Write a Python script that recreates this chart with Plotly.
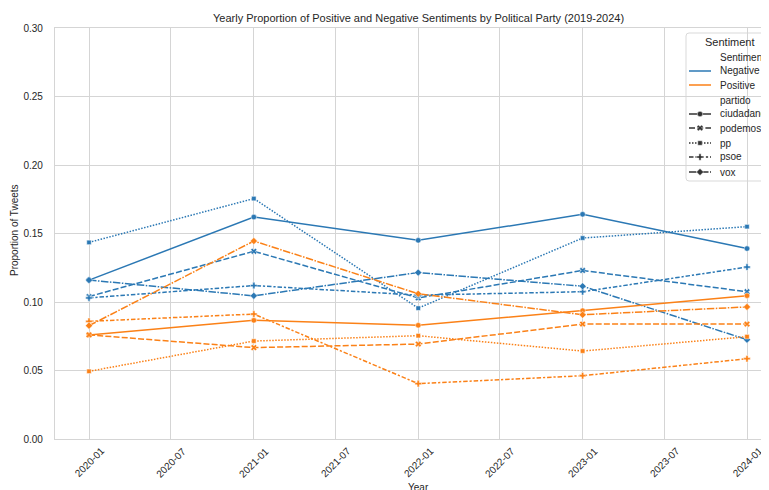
import plotly.graph_objects as go
import pandas as pd

# ---------------- data ----------------
years = ["2020-01-01", "2021-01-01", "2022-01-01", "2023-01-01", "2024-01-01"]
parties = ["ciudadanos", "podemos", "pp", "psoe", "vox"]
sentiments = ["Negative", "Positive"]

neg_ciudadanos = [0.116, 0.162, 0.145, 0.164, 0.139]
neg_podemos = [0.104, 0.137, 0.103, 0.123, 0.1075]
neg_pp = [0.1435, 0.1755, 0.0955, 0.1467, 0.155]
neg_psoe = [0.103, 0.112, 0.105, 0.1075, 0.1255]
neg_vox = [0.116, 0.1045, 0.1215, 0.1115, 0.0725]

pos_ciudadanos = [0.076, 0.0866, 0.083, 0.0937, 0.1046]
pos_podemos = [0.076, 0.0667, 0.0693, 0.0839, 0.0839]
pos_pp = [0.0494, 0.0715, 0.0754, 0.0642, 0.0747]
pos_psoe = [0.0859, 0.0912, 0.0404, 0.0462, 0.0586]
pos_vox = [0.0827, 0.1445, 0.106, 0.0907, 0.0964]

tick_dates = ["2020-01-01", "2020-07-01", "2021-01-01", "2021-07-01", "2022-01-01",
              "2022-07-01", "2023-01-01", "2023-07-01", "2024-01-01"]
tick_labels = ["2020-01", "2020-07", "2021-01", "2021-07", "2022-01",
               "2022-07", "2023-01", "2023-07", "2024-01"]
y_ticks = [0.0, 0.05, 0.10, 0.15, 0.20, 0.25, 0.30]

title_text = "Yearly Proportion of Positive and Negative Sentiments by Political Party (2019-2024)"

series = {
    "Negative": {"ciudadanos": neg_ciudadanos, "podemos": neg_podemos, "pp": neg_pp,
                 "psoe": neg_psoe, "vox": neg_vox},
    "Positive": {"ciudadanos": pos_ciudadanos, "podemos": pos_podemos, "pp": pos_pp,
                 "psoe": pos_psoe, "vox": pos_vox},
}

# ---------------- styles ----------------
OFF = 8  # page body margin offset
W, H = 769, 490
L, R, T, B = 55 - OFF, 0, 28 - OFF, H - (439 - OFF)
PW, PH = W - L - R, H - T - B

colors = {"Negative": "#2b78b4", "Positive": "#fb8117"}
dashes = {"ciudadanos": "solid", "podemos": "6px,2.2px", "pp": "1.5px,1.5px",
          "psoe": "4.5px,1.9px,2.2px,1.9px", "vox": "7.5px,1.5px,1.5px,1.5px"}
symbols = {"ciudadanos": "circle", "podemos": "x", "pp": "square", "psoe": "cross",
           "vox": "diamond"}
msize = {"ciudadanos": 5.5, "podemos": 5.5, "pp": 4.5, "psoe": 5.5, "vox": 5.5}
grid_c = "#d5d5d5"
text_c = "#262626"
FONT = "Liberation Sans, Arial, sans-serif"


def px2x(px):
    return (px - OFF - L) / PW


def py2y(py):
    return (H - B - (py - OFF)) / PH


# x range: 2020-01 at page px 89, 2024-01 at page px 747
d0 = pd.Timestamp("2020-01-01")
d1 = pd.Timestamp("2024-01-01")
days_per_px = (d1 - d0).days / (747 - 89)
x_left = d0 - pd.Timedelta(days=(89 - 55) * days_per_px)
x_right = d1 + pd.Timedelta(days=(W - R + OFF - 747) * days_per_px)

fig = go.Figure()

for s in sentiments:
    for p in parties:
        fig.add_trace(go.Scatter(
            x=years, y=series[s][p], mode="lines+markers",
            line=dict(color=colors[s], width=1.5, dash=dashes[p]),
            marker=dict(symbol=symbols[p], size=msize[p], color=colors[s],
                        line=dict(color="white", width=0.5)),
            showlegend=False, hoverinfo="skip"))

# ---------------- manual legend ----------------
lg_x0, lg_x1, lg_y0, lg_y1 = 686, 776, 33, 181
r = 3
path = (f"M {px2x(lg_x0 + r)},{py2y(lg_y0)} L {px2x(lg_x1 - r)},{py2y(lg_y0)} "
        f"Q {px2x(lg_x1)},{py2y(lg_y0)} {px2x(lg_x1)},{py2y(lg_y0 + r)} "
        f"L {px2x(lg_x1)},{py2y(lg_y1 - r)} Q {px2x(lg_x1)},{py2y(lg_y1)} {px2x(lg_x1 - r)},{py2y(lg_y1)} "
        f"L {px2x(lg_x0 + r)},{py2y(lg_y1)} Q {px2x(lg_x0)},{py2y(lg_y1)} {px2x(lg_x0)},{py2y(lg_y1 - r)} "
        f"L {px2x(lg_x0)},{py2y(lg_y0 + r)} Q {px2x(lg_x0)},{py2y(lg_y0)} {px2x(lg_x0 + r)},{py2y(lg_y0)} Z")
fig.add_shape(type="path", path=path, xref="paper", yref="paper", layer="between",
              fillcolor="rgba(255,255,255,0.8)", line=dict(color="#d9d9d9", width=1))

ann = []
ann.append(dict(text="Sentiment", x=px2x(730), y=py2y(42), xref="paper", yref="paper",
                showarrow=False, xanchor="center", yanchor="middle",
                font=dict(size=11, color=text_c, family=FONT)))

rows = [("Sentiment", None, None), ("Negative", "Negative", None), ("Positive", "Positive", None),
        ("partido", None, None)] + [(p, None, p) for p in parties]
row_y = [57, 71, 85, 100, 114, 128, 143, 157, 172]
for (label, sent, party), yy in zip(rows, row_y):
    ann.append(dict(text=label, x=px2x(718), y=py2y(yy), xref="paper", yref="paper",
                    showarrow=False, xanchor="left", yanchor="middle",
                    font=dict(size=10, color=text_c, family=FONT)))
    if sent is not None:
        fig.add_trace(go.Scatter(x=[px2x(689), px2x(711)], y=[py2y(yy), py2y(yy)],
                                 mode="lines", line=dict(color=colors[sent], width=1.5),
                                 xaxis="x2", yaxis="y2", showlegend=False, hoverinfo="skip"))
    if party is not None:
        fig.add_trace(go.Scatter(x=[px2x(689), px2x(711)], y=[py2y(yy), py2y(yy)],
                                 mode="lines", line=dict(color="#333333", width=1.5, dash=dashes[party]),
                                 xaxis="x2", yaxis="y2", showlegend=False, hoverinfo="skip"))
        fig.add_trace(go.Scatter(x=[px2x(700)], y=[py2y(yy)], mode="markers",
                                 marker=dict(symbol=symbols[party], size=msize[party], color="#333333",
                                             line=dict(color="white", width=0.5)),
                                 xaxis="x2", yaxis="y2", showlegend=False, hoverinfo="skip"))

# ---------------- title, axis labels, tick labels ----------------
ann.append(dict(text=title_text, x=px2x(418), y=py2y(18), xref="paper", yref="paper",
                showarrow=False, xanchor="center", yanchor="middle",
                font=dict(size=11, color=text_c, family=FONT)))
ann.append(dict(text="Year", x=px2x(418), y=py2y(487), xref="paper", yref="paper",
                showarrow=False, xanchor="center", yanchor="middle",
                font=dict(size=10, color=text_c, family=FONT)))
ann.append(dict(text="Proportion of Tweets", x=px2x(15), y=py2y(230), xref="paper", yref="paper",
                showarrow=False, xanchor="center", yanchor="middle", textangle=-90,
                font=dict(size=10, color=text_c, family=FONT)))
for d, t in zip(tick_dates, tick_labels):
    ann.append(dict(text=t, x=d, y=py2y(462), xref="x", yref="paper",
                    showarrow=False, xanchor="center", yanchor="middle", textangle=-45,
                    font=dict(size=10, color=text_c, family=FONT)))

fig.update_layout(
    width=W, height=H,
    margin=dict(l=L, r=R, t=T, b=B, pad=0),
    paper_bgcolor="white", plot_bgcolor="white",
    font=dict(family=FONT, size=10, color=text_c),
    annotations=ann,
    xaxis=dict(type="date", range=[x_left, x_right], tickvals=tick_dates,
               showticklabels=False, showgrid=True, gridcolor=grid_c, gridwidth=1,
               showline=True, mirror=True, linecolor=grid_c, linewidth=1.25,
               zeroline=False, ticks="", automargin=False),
    yaxis=dict(range=[0, 0.30], tickvals=y_ticks, tickformat=".2f",
               showgrid=True, gridcolor=grid_c, gridwidth=1,
               showline=True, mirror=False, linecolor=grid_c, linewidth=1.25,
               zeroline=False, ticks="outside", ticklen=9, tickcolor="rgba(0,0,0,0)",
               tickfont=dict(size=10, color=text_c, family=FONT), automargin=False),
    xaxis2=dict(domain=[0, 1], range=[0, 1], overlaying="x", visible=False, fixedrange=True),
    yaxis2=dict(domain=[0, 1], range=[0, 1], overlaying="y", visible=False, fixedrange=True),
    showlegend=False,
)

fig.write_html("out.html")
